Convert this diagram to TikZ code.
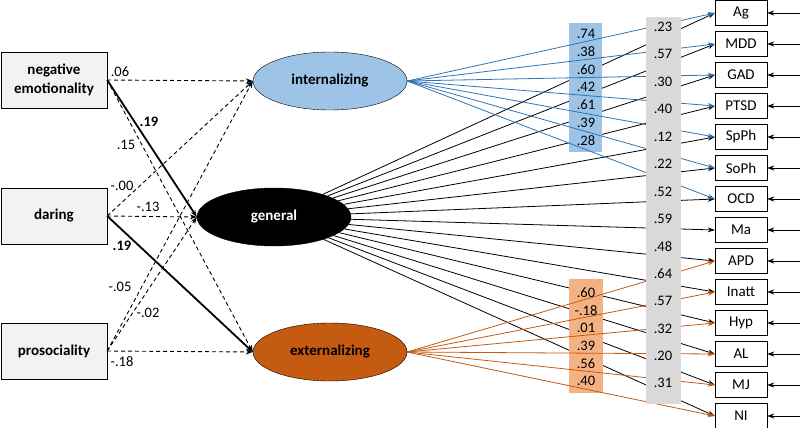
\documentclass[tikz,border=0pt]{standalone}
\usepackage{fontspec}
\setmainfont{Carlito}
\usetikzlibrary{shapes.geometric,arrows.meta}
\definecolor{traitfill}{HTML}{F2F2F2}
\definecolor{intfill}{HTML}{9DC3E6}
\definecolor{intline}{HTML}{2E75B6}
\definecolor{extfill}{HTML}{C55A11}
\definecolor{extband}{HTML}{F4B183}
\definecolor{genband}{HTML}{D9D9D9}
\begin{document}
\begin{tikzpicture}[x=1pt,y=-1pt,
  trait/.style={draw,fill=traitfill,minimum width=106pt,minimum height=56pt,align=center,inner sep=0pt,font=\fontsize{15}{19}\selectfont\bfseries},
  latent/.style={draw,ellipse,minimum width=154pt,minimum height=58pt,inner sep=0pt,font=\fontsize{15}{16}\selectfont\bfseries},
  ind/.style={draw,fill=white,minimum width=52pt,minimum height=25pt,inner sep=0pt,font=\fontsize{15}{16}\selectfont},
  coef/.style={inner sep=1pt,font=\fontsize{14.5}{15}\selectfont},
  arr/.style={-{Stealth[length=7pt,width=5pt]}},
  regpath/.style={arr,line width=0.9pt,dash pattern=on 4pt off 3pt},
  boldpath/.style={arr,line width=1.8pt},
  load/.style={arr,line width=0.8pt}]
\useasboundingbox (0,0) rectangle (800,428);
% traits
\node[trait] (ne) at (54,80) {negative\\emotionality};
\node[trait] (da) at (54,216) {daring};
\node[trait] (pr) at (54,351) {prosociality};
% latent factors
\node[latent,fill=intfill] (int) at (330,81) {internalizing};
\node[latent,fill=black,text=white] (gen) at (274,217) {general};
\node[latent,fill=extfill] (ext) at (330,352) {externalizing};
% indicators
\foreach \t [count=\i] in {Ag,MDD,GAD,PTSD,SpPh,SoPh,OCD,Ma,APD,Inatt,Hyp,AL,MJ,NI}{
  \node[ind] (y\i) at (741,{13+31*(\i-1)}) {\t};
  \coordinate (e\i) at (800,{13+31*(\i-1)});
  \draw[arr,line width=0.8pt] (e\i) -- (y\i.east);
}
% regressions
\draw[regpath] (ne.east) -- (int.west);
\draw[boldpath] (ne.east) -- (gen.west);
\draw[regpath] (ne.east) -- (ext.west);
\draw[regpath] (da.east) -- (int.west);
\draw[regpath] (da.east) -- (gen.west);
\draw[boldpath] (da.east) -- (ext.west);
\draw[regpath] (pr.east) -- (int.west);
\draw[regpath] (pr.east) -- (gen.west);
\draw[regpath] (pr.east) -- (ext.west);
\node[coef] (r1) at (120,72) {.06};
\node[coef,font=\fontsize{14.5}{15}\selectfont\bfseries] (r2) at (149,122) {.19};
\node[coef] (r3) at (126,145) {.15};
\node[coef] (r4) at (122,186) {-.00};
\node[coef] (r5) at (148,207) {-.13};
\node[coef,font=\fontsize{14.5}{15}\selectfont\bfseries] (r6) at (122,246) {.19};
\node[coef] (r7) at (120,287) {-.05};
\node[coef] (r8) at (148,313) {-.02};
\node[coef] (r9) at (122,362) {-.18};
% general loadings
\foreach \i in {1,...,14}
  \draw[load] (gen) -- (y\i.west);
\fill[intfill] (569,23) rectangle (602,152);
\fill[extband] (569,279) rectangle (603,393);
% specific loadings
\foreach \i in {1,...,7}
  \draw[load,intline] (int.east) -- (y\i.west);
\foreach \i in {9,...,14}
  \draw[load,extfill] (ext.east) -- (y\i.west);
\fill[genband] (646,17) rectangle (681,404);
\foreach \v [count=\i] in {.74,.38,.60,.42,.61,.39,.28}
  \node[coef] (bi\i) at (586,{34+17.7*(\i-1)}) {\v};
\foreach \v [count=\i] in {.60,-.18,.01,.39,.56,.40}
  \node[coef] (bx\i) at (586,{293+17.6*(\i-1)}) {\v};
\foreach \v [count=\i] in {.23,.57,.30,.40,.12,.22,.52,.59,.48,.64,.57,.32,.20,.31}
  \node[coef] (bg\i) at (663,{27+27.4*(\i-1)}) {\v};
\end{tikzpicture}
\end{document}
